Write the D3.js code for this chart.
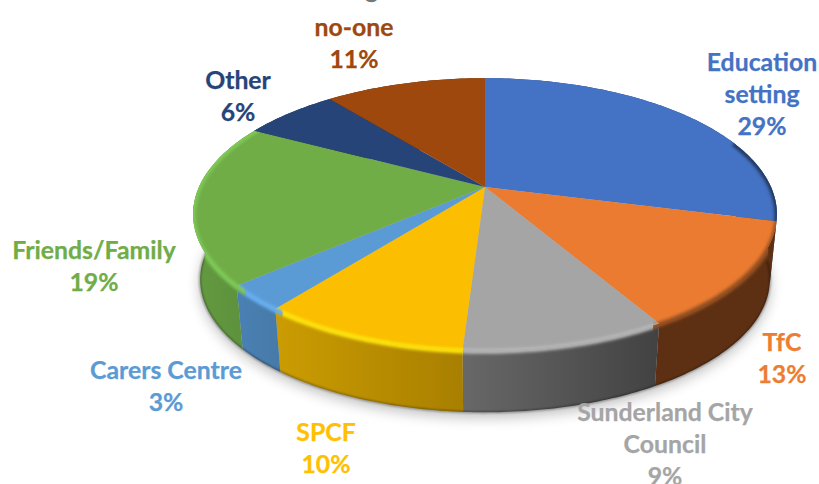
<!DOCTYPE html>
<html><head><meta charset="utf-8">
<style>html,body{margin:0;padding:0;background:#fff;overflow:hidden}svg{display:block}
text{font-family:Lato,"Open Sans",sans-serif;font-weight:700;font-size:24.8px;text-anchor:middle;dominant-baseline:central;stroke-width:.25px;stroke:currentColor}</style>
<script src="https://cdn.jsdelivr.net/npm/d3@7/dist/d3.min.js"></script>
</head><body><svg id="c" width="819" height="484"></svg>
<script>
const categories = ["Education setting","TfC","Sunderland City Council","SPCF","Carers Centre","Friends/Family","Other","Talking to no-one"];
const values = [29,12.6,9.4,9.6,3,19.2,6.4,10.8];
const topColors = ["#4472C4","#EB7B30","#A5A5A5","#FBBE00","#5B9BD5","#70AD47","#264478","#9E480E"];
const labelColors = ["#4472C4","#ED7D31","#A5A5A5","#FFC000","#5B9BD5","#70AD47","#264478","#9E480E"];
const sideLeft = ["#264478","#5e3013","#686868","#cb9c02","#4a80b4","#649a41","#264478","#5e2c08"];
const sideRight = ["#264478","#5e3013","#424242","#a87f00","#467aa8","#5b8f3b","#264478","#5e2c08"];
const bevelColors = ["#22395f","#9c5220","#b8b8b8","#ffe408","#68b0f2","#7fc956","#264478","#9E480E"];
const labelLines = [["Education","setting"],["TfC"],["Sunderland City","Council"],["SPCF"],["Carers Centre"],["Friends/Family"],["Other"],["Talking to","no-one"]];
const labelX = [762,782,665,326,166,94,238,354];
const labelTop = [61,341,411,431,369,249,79,-6];

const svg = d3.select("#c");
const defs = svg.append("defs");
const f = (id,s)=>defs.append("filter").attr("id",id).attr("filterUnits","userSpaceOnUse")
  .attr("x",0).attr("y",0).attr("width",819).attr("height",484)
  .append("feGaussianBlur").attr("stdDeviation",s);
f("blurS",7); f("blurB",1.7); f("blurE",0.8);

const pie = d3.pie().sort(null).value(d=>d);
const arcs = pie(values);

// Perspective disc: the pie's unit circle projected to the page
const k = 0.2;
const sx = d3.scaleLinear().domain([-1,1]).range([485-286,485+286]);
const sy = d3.scaleLinear().domain([-1,1]).range([187-130.6,187+130.6]);
function proj(a,r,scale,dy){
  const u = r*Math.sin(a), v = -r*Math.cos(a), den = 1-k*v;
  return [485+(sx(u/den)-485)*scale, 187+(sy(v/den)-187)*scale+dy];
}
const rim = (a,r=1)=>proj(a,r,1,0);
const bot = a=>proj(a,1,0.976,66);
const line = d3.line();
const samples = (a0,a1)=>{const n=Math.max(4,Math.ceil((a1-a0)*60));return d3.range(n+1).map(i=>a0+(a1-a0)*i/n);};

// soft ground shadow
const all = samples(0,2*Math.PI);
svg.append("path").attr("d",line(all.map(a=>{const p=bot(a);return [p[0],p[1]+5];}))+"Z").attr("fill","#000").attr("opacity",.26).attr("filter","url(#blurS)");

// side walls
arcs.forEach((d,i)=>{
  const g = defs.append("linearGradient").attr("id","side"+i);
  g.append("stop").attr("offset",0).attr("stop-color",sideLeft[i]);
  g.append("stop").attr("offset",1).attr("stop-color",sideRight[i]);
});
const order = d3.range(arcs.length);
order.forEach(i=>{
  const d=arcs[i], s=samples(d.startAngle,d.endAngle);
  const pts=s.map(a=>rim(a)).concat(s.slice().reverse().map(bot));
  svg.append("path").attr("d",line(pts)+"Z").attr("fill",`url(#side${i})`);
});
// dark lower edge of the wall
svg.append("path").attr("d",line(samples(Math.PI*0.52,Math.PI*1.6).map(bot))).attr("fill","none")
  .attr("stroke","#000").attr("stroke-opacity",.45).attr("stroke-width",1.6).attr("filter","url(#blurE)");

// top faces
order.forEach(i=>{
  const d=arcs[i], s=samples(d.startAngle,d.endAngle);
  const pts=[rim(0,0)].concat(s.map(a=>rim(a)));
  svg.append("path").attr("d",line(pts)+"Z").attr("fill",topColors[i]);
});
// bevel along front rim (runs past the wedge ends so the blur stays even up to the clip)
order.forEach(i=>{
  const d=arcs[i];
  const a0=Math.max(d.startAngle,Math.PI*0.42), a1=Math.min(d.endAngle,Math.PI*1.68);
  if(a1<=a0) return;
  const s=samples(d.startAngle,d.endAngle);
  const wedge=[rim(0,0)].concat(s.map(a=>rim(a)));
  const wall=s.map(bot).concat(s.slice().reverse().map(a=>rim(a,0.97)));
  const cid="cb"+i;
  defs.append("clipPath").attr("id",cid).append("path").attr("d",line(wedge)+"Z"+line(wall)+"Z");
  const g=svg.append("g").attr("clip-path",`url(#${cid})`);
  g.append("path").attr("d",line(samples(a0-0.12,a1+0.12).map(a=>{const p=rim(a);return [p[0],p[1]+1];}))).attr("fill","none")
   .attr("stroke",bevelColors[i]).attr("stroke-width",5).attr("filter","url(#blurB)");
});

// labels
arcs.forEach((d,i)=>{
  const lines=labelLines[i].concat([d3.format(".0f")(values[i])+"%"]);
  lines.forEach((t,j)=>{
    const first=i===7&&j===0;
    svg.append("text").attr("x",labelX[i]).attr("y",labelTop[i]+j*32-(first?6:0))
      .attr("fill",first?"#777":labelColors[i]).style("color",first?"#777":labelColors[i]).text(t);
  });
});
</script></body></html>
